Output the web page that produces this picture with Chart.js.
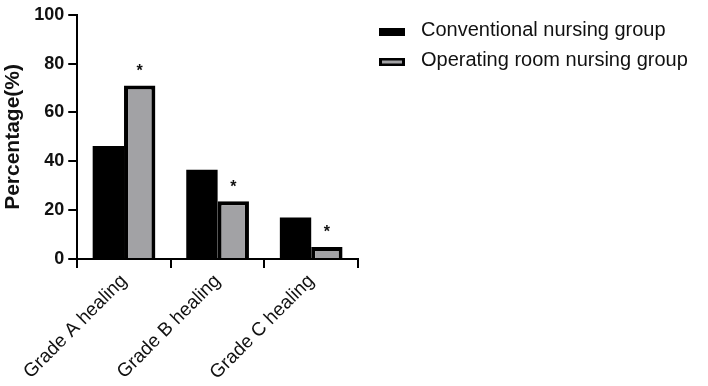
<!DOCTYPE html>
<html>
<head>
<meta charset="utf-8">
<script src="https://cdn.jsdelivr.net/npm/chart.js@4.4.0/dist/chart.umd.min.js"></script>
<style>
  html, body { margin: 0; padding: 0; background: #fff; }
  #wrap { width: 708px; height: 386px; }
</style>
</head>
<body>
<div id="wrap"><canvas id="chart"></canvas></div>
<script>
const categories = ['Grade A healing', 'Grade B healing', 'Grade C healing'];
const conventional = [46.3, 36.6, 17.0];
const operatingRoom = [71.1, 23.7, 4.9];
const marks = ['*', '*', '*'];
const yTicks = [0, 20, 40, 60, 80, 100];

const FONT = "'Liberation Sans', Arial, sans-serif";

// significance asterisks above the second series
const starPlugin = {
  id: 'stars',
  afterDatasetsDraw(chart) {
    const ctx = chart.ctx;
    const meta = chart.getDatasetMeta(1);
    ctx.save();
    ctx.fillStyle = '#111';
    ctx.font = 'bold 16px ' + FONT;
    ctx.textAlign = 'center';
    ctx.textBaseline = 'middle';
    meta.data.forEach((bar, i) => {
      ctx.fillText(marks[i], bar.x, bar.y - 14);
    });
    ctx.restore();
  }
};

// legend to the right of the plot (built-in one gets squeezed)
const sideLegend = {
  id: 'sideLegend',
  afterDraw(chart) {
    const ctx = chart.ctx;
    const x0 = chart.chartArea.right + 21;
    ctx.save();
    ctx.font = '20px ' + FONT;
    ctx.textBaseline = 'middle';
    ctx.textAlign = 'left';
    chart.data.datasets.forEach((ds, i) => {
      const cy = 32 + i * 30;
      const bw = ds.borderWidth || 0;
      ctx.fillStyle = ds.borderColor;
      ctx.fillRect(x0, cy - 4, 26, 8);
      if (bw) {
        ctx.fillStyle = ds.backgroundColor;
        ctx.fillRect(x0 + 3, cy - 1.5, 20, 3);
      }
      ctx.fillStyle = '#111';
      ctx.fillText(ds.label, x0 + 42, cy - 2);
    });
    ctx.restore();
  }
};

new Chart(document.getElementById('chart'), {
  type: 'bar',
  data: {
    labels: categories,
    datasets: [{
      label: 'Conventional nursing group',
      data: conventional,
      backgroundColor: '#000',
      borderColor: '#000',
      borderWidth: 0
    }, {
      label: 'Operating room nursing group',
      data: operatingRoom,
      backgroundColor: '#a2a2a5',
      borderColor: '#000',
      borderWidth: 4
    }]
  },
  options: {
    responsive: true,
    maintainAspectRatio: false,
    animation: false,
    categoryPercentage: 0.67,
    barPercentage: 1,
    layout: { padding: { top: 6, right: 350, left: 1, bottom: 0 } },
    plugins: {
      tooltip: { enabled: false },
      legend: { display: false }
    },
    scales: {
      x: {
        grid: { display: true, drawOnChartArea: false, color: '#000', tickLength: 9, lineWidth: 2 },
        border: { color: '#000', width: 2 },
        ticks: {
          color: '#111',
          font: { family: FONT, size: 19 },
          maxRotation: 45,
          minRotation: 45,
          padding: 2
        }
      },
      y: {
        min: 0,
        max: 100,
        afterBuildTicks(axis) { axis.ticks = yTicks.map(v => ({ value: v })); },
        grid: { display: true, drawOnChartArea: false, color: '#000', tickLength: 9, lineWidth: 2 },
        border: { color: '#000', width: 2 },
        ticks: {
          color: '#111',
          font: { family: FONT, size: 18, weight: 'bold' },
          padding: 4
        },
        title: {
          display: true,
          text: 'Percentage(%)',
          color: '#111',
          font: { family: FONT, size: 21, weight: 'bold' },
          padding: { top: 0, bottom: 4 }
        }
      }
    }
  },
  plugins: [starPlugin, sideLegend]
});
</script>
</body>
</html>
